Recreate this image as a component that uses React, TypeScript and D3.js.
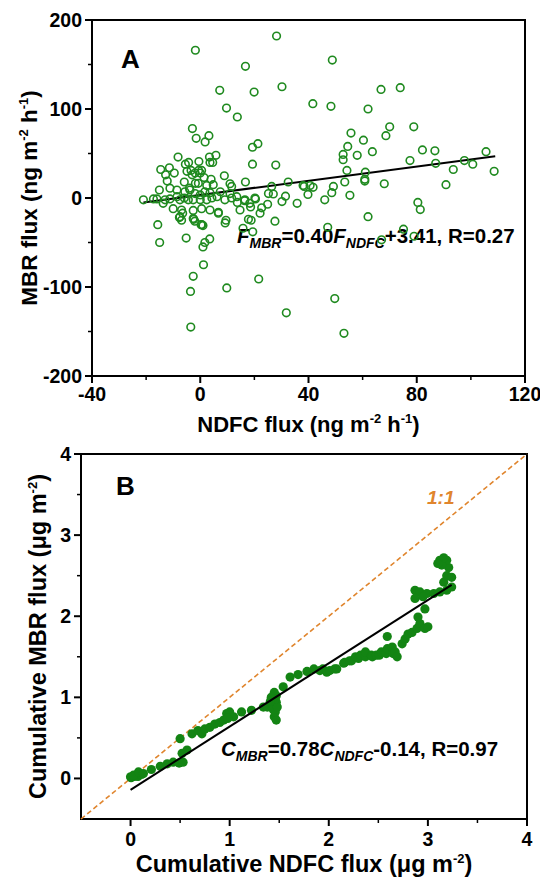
import React from "react";
import * as d3 from "d3";

// ---------- Panel A data: NDFC flux (x) vs MBR flux (y), ng m-2 h-1 ----------
const fluxPointsA: [number, number][] = [
  [-1.8, 166], [28.2, 182], [16.7, 148], [48.8, 155], [7.2, 121], [19.9, 119], [30.2, 125],
  [9.7, 101], [13.7, 91], [41.6, 106], [48.3, 103], [66.8, 122], [73.9, 124], [62, 100],
  [-2.9, 78], [-1.5, 67], [3.2, 70], [1.8, 63], [19.3, 57], [21.3, 61], [55.7, 73], [70, 80],
  [78.9, 80], [68.6, 70], [60.3, 65], [54.5, 58], [52.8, 49], [58, 48], [63.6, 52], [52.8, 43],
  [82.1, 54], [86.7, 53], [77.5, 42], [87, 39], [93.5, 32], [97.6, 42], [100.7, 38], [105.6, 52],
  [108.6, 30], [90.8, 15], [68, 16], [54.2, 31], [61, 29], [60.8, 21], [60.8, 19], [53.4, 18],
  [49.2, 13], [48.6, 6], [55.3, 3], [46, -2], [41.7, 12], [38.4, 13], [38, 14], [40.6, 14],
  [39.8, 4], [35.8, -6], [32.5, 18], [27.9, 37], [19.3, 38], [16.7, 18], [25.2, 5], [27, 4.5],
  [26.4, 13], [31.5, 2], [30.2, -4], [80.4, -5], [81.3, -13], [62, -21], [20.4, -1], [18.6, -10],
  [16.4, -3], [13.7, -5], [24.9, -7], [22.7, -11], [22.1, -17],
  [-15.7, -30], [-15, -50], [-5.2, -45], [-2.6, -88], [-3.6, -105], [-3.5, -145], [1.2, -75],
  [1, -55], [1.7, -50], [3.5, -46], [9.8, -101], [21.6, -91], [31.8, -129], [49.7, -113],
  [53.1, -152], [0.6, -30], [-2.4, -24], [-7.7, -22], [-6.5, -17], [6.7, -16], [9.5, -25],
  [18.8, -25], [27.6, -26], [15.8, -34], [19.4, -38], [47.1, -33], [67, -47], [75.1, -35],
  [79, -43], [9.2, -28],
  [-8.2, 46], [-14.6, 32], [-11.4, 34], [-12.8, 26], [-12.2, 19], [-15.1, 9], [-9.6, 28],
  [-5.5, 38], [-4.3, 40], [-4.9, 30], [-3.4, 31], [-0.5, 41], [-0.6, 31], [3.4, 46], [5.8, 48],
  [3.6, 40], [4.6, 40], [-3, 26], [-1.9, 28], [0, 28], [0.5, 31], [-5.9, 18], [-1.8, 16.5],
  [-0.7, 16.5], [1.4, 23], [4, 21], [2.4, 14], [4.8, 15], [8.9, 25], [11, 16], [11.6, 13],
  [-11.2, 11], [-8.6, 9], [-4, 11], [-5.7, 7], [-21, -2], [-17.3, -1], [-16, -1], [-13, -2],
  [-11.2, -1], [-8.6, 1.5], [-7.5, -2], [-5.9, 0], [-3.8, 9], [-1.9, 5], [0, 3.5], [1.7, 7],
  [3.6, 6], [-4.4, -2], [-2.6, -2], [0, -2], [2.4, -2], [4.3, 0], [6.2, 1.5], [7.4, 7],
  [9.1, -2], [11, 5], [11.6, 0], [13.5, 1.5], [16.5, -2], [18.3, -6], [20.2, 0], [-13.7, -6],
  [-10, -12], [-6.9, -13.5], [-2.6, -14], [0.5, -12], [3.6, -13.5], [6.7, -17], [-7.5, -21],
  [-2.6, -23], [0.3, -30], [-6.9, -25], [-2, -26], [1, -31], [14.7, -13.5], [17.8, -24],
];

// ---------- Panel B data: cumulative NDFC (x) vs cumulative MBR (y), ug m-2 ----------
const cumPointsB: [number, number][] = [
  [0, 0.02], [0.005, 0.01], [0.04, 0.025], [0.075, 0.025], [0.11, 0.05], [0.03, 0.04],
  [0.08, 0.08], [0.13, 0.06], [0.21, 0.11], [0.3, 0.15], [0.37, 0.18], [0.43, 0.2], [0.49, 0.19],
  [0.53, 0.2], [0.52, 0.31], [0.5, 0.49], [0.57, 0.35], [0.62, 0.55], [0.68, 0.59], [0.72, 0.55],
  [0.75, 0.61], [0.8, 0.63], [0.85, 0.67], [0.9, 0.69], [0.94, 0.72], [0.97, 0.8], [1.0, 0.82],
  [1.04, 0.76], [0.98, 0.74], [1.12, 0.82], [1.22, 0.84], [1.34, 0.88], [1.38, 0.88],
  [1.43, 0.9], [1.47, 0.94], [1.45, 0.76], [1.47, 0.72], [1.46, 0.82], [1.44, 0.85], [1.48, 0.88],
  [1.47, 1.02], [1.45, 1.06], [1.46, 0.98], [1.42, 1.0], [1.41, 0.95], [1.54, 1.13], [1.61, 1.25],
  [1.69, 1.28], [1.78, 1.32], [1.85, 1.35], [1.91, 1.33], [1.94, 1.35], [1.98, 1.31], [2.01, 1.33],
  [2.06, 1.35], [2.08, 1.35], [2.15, 1.42], [2.16, 1.43], [2.21, 1.45], [2.23, 1.45], [2.27, 1.5],
  [2.3, 1.48], [2.32, 1.52], [2.37, 1.5], [2.37, 1.56], [2.43, 1.52], [2.44, 1.5], [2.48, 1.52],
  [2.51, 1.52], [2.53, 1.56], [2.58, 1.54], [2.59, 1.6], [2.64, 1.62], [2.65, 1.54], [2.67, 1.56],
  [2.69, 1.5], [2.59, 1.75], [2.74, 1.66], [2.77, 1.72], [2.8, 1.78], [2.84, 1.8], [2.89, 1.85],
  [2.92, 1.91], [2.9, 1.99], [2.97, 1.85], [3.0, 1.87], [2.87, 2.32], [2.92, 2.3], [2.99, 2.28],
  [3.06, 2.28], [3.12, 2.3], [3.19, 2.32], [3.24, 2.36], [2.87, 2.22], [2.95, 2.24], [2.97, 2.09],
  [3.16, 2.42], [3.19, 2.5], [3.24, 2.48], [3.21, 2.6], [3.12, 2.69], [3.19, 2.69], [3.14, 2.63],
  [3.16, 2.72], [3.1, 2.65],
];

// ---------- Ticks ----------
const aXTicks = [-40, 0, 40, 80, 120];
const aXMinor = [-20, 20, 60, 100];
const aYTicks = [-200, -100, 0, 100, 200];
const aYMinor = [-150, -50, 50, 150];
const bTicks = [0, 1, 2, 3, 4];
const bMinor = [0.5, 1.5, 2.5, 3.5];

// ---------- Fits ----------
const fitA = [0.40, 3.41]; // slope, intercept
const fitARange = [-21, 109];
const fitB = [0.78, -0.14];
const fitBRange = [0, 3.24];
const oneToOne = [-0.5, 4];

const FONT = "'Liberation Sans', Arial, Helvetica, sans-serif";
const GREEN_A = "#1f8a1f";
const GREEN_B = "#138413";
const ORANGE = "#e0852d";

type Scale = d3.ScaleLinear<number, number>;

function Frame({ x, y, xTicks, xMinor, yTicks, yMinor, labelGap }: {
  x: Scale; y: Scale; xTicks: number[]; xMinor: number[]; yTicks: number[]; yMinor: number[]; labelGap: number;
}) {
  const [l, r] = x.range();
  const [b, t] = y.range();
  return (
    <g>
      {xTicks.map((v) => (
        <g key={"xt" + v}>
          <line x1={x(v)} x2={x(v)} y1={b} y2={b + 7} stroke="#000" strokeWidth={2} />
          <text x={x(v)} y={b + labelGap} textAnchor="middle" fontSize={19.5} fontWeight="bold" fontFamily={FONT}>
            {String(v)}
          </text>
        </g>
      ))}
      {xMinor.map((v) => (
        <line key={"xm" + v} x1={x(v)} x2={x(v)} y1={b} y2={b + 4} stroke="#000" strokeWidth={1.5} />
      ))}
      {yTicks.map((v) => (
        <g key={"yt" + v}>
          <line x1={l} x2={l - 7} y1={y(v)} y2={y(v)} stroke="#000" strokeWidth={2} />
          <text x={l - 10} y={y(v)} dy="0.36em" textAnchor="end" fontSize={19.5} fontWeight="bold" fontFamily={FONT}>
            {String(v)}
          </text>
        </g>
      ))}
      {yMinor.map((v) => (
        <line key={"ym" + v} x1={l} x2={l - 4} y1={y(v)} y2={y(v)} stroke="#000" strokeWidth={1.5} />
      ))}
      <rect x={l} y={t} width={r - l} height={b - t} fill="none" stroke="#000" strokeWidth={2} />
    </g>
  );
}

export default function App() {
  const ax = d3.scaleLinear().domain([-40, 120]).range([92, 525]);
  const ay = d3.scaleLinear().domain([-200, 200]).range([376, 20]);
  const bx = d3.scaleLinear().domain([-0.5, 4]).range([81, 527]);
  const by = d3.scaleLinear().domain([-0.5, 4]).range([819, 454]);

  const lineA = d3.line<number>().x((v) => ax(v)).y((v) => ay(fitA[0] * v + fitA[1]));
  const lineB = d3.line<number>().x((v) => bx(v)).y((v) => by(fitB[0] * v + fitB[1]));
  const lineOne = d3.line<number>().x((v) => bx(v)).y((v) => by(v));

  return (
    <svg width={540} height={883} style={{ position: "absolute", left: 0, top: 0, background: "#fff" }}>
      <rect width={540} height={883} fill="#fff" />
      {/* ---------------- Panel A ---------------- */}
      <Frame x={ax} y={ay} xTicks={aXTicks} xMinor={aXMinor} yTicks={aYTicks} yMinor={aYMinor} labelGap={25} />
      <text x={121} y={68} fontSize={26} fontWeight="bold" fontFamily={FONT}>A</text>
      <path d={lineA(fitARange) || ""} stroke="#000" strokeWidth={2} fill="none" />
      <text x={237} y={243} fontSize={20.5} fontWeight="bold" fontFamily={FONT}>
        <tspan fontStyle="italic">F</tspan>
        <tspan fontStyle="italic" fontSize={14} dy={5}>MBR</tspan>
        <tspan dy={-5}>=0.40</tspan>
        <tspan fontStyle="italic">F</tspan>
        <tspan fontStyle="italic" fontSize={14} dy={5}>NDFC</tspan>
        <tspan dy={-5}>+3.41, R=0.27</tspan>
      </text>
      {fluxPointsA.map((p, i) => (
        <circle key={"a" + i} cx={ax(p[0])} cy={ay(p[1])} r={3.8} fill="none" stroke={GREEN_A} strokeWidth={1.6} />
      ))}
      <text x={308.5} y={432} textAnchor="middle" fontSize={22} fontWeight="bold" fontFamily={FONT}>
        <tspan>NDFC flux (ng m</tspan>
        <tspan fontSize={13} dy={-9}>-2</tspan>
        <tspan dy={9}> h</tspan>
        <tspan fontSize={13} dy={-9}>-1</tspan>
        <tspan dy={9}>)</tspan>
      </text>
      <text transform="translate(37,198) rotate(-90)" textAnchor="middle" fontSize={22.5} fontWeight="bold" fontFamily={FONT}>
        <tspan>MBR flux (ng m</tspan>
        <tspan fontSize={13} dy={-9}>-2</tspan>
        <tspan dy={9}> h</tspan>
        <tspan fontSize={13} dy={-9}>-1</tspan>
        <tspan dy={9}>)</tspan>
      </text>

      {/* ---------------- Panel B ---------------- */}
      <Frame x={bx} y={by} xTicks={bTicks} xMinor={bMinor} yTicks={bTicks} yMinor={bMinor} labelGap={27} />
      <text x={116} y={495} fontSize={26} fontWeight="bold" fontFamily={FONT}>B</text>
      <path d={lineOne(oneToOne) || ""} stroke={ORANGE} strokeWidth={1.6} strokeDasharray="5,3" fill="none" />
      <text x={427} y={504} fontSize={19} fontWeight="bold" fontStyle="italic" fill={ORANGE} fontFamily={FONT}>1:1</text>
      {cumPointsB.map((p, i) => (
        <circle key={"b" + i} cx={bx(p[0])} cy={by(p[1])} r={4.6} fill={GREEN_B} />
      ))}
      <path d={lineB(fitBRange) || ""} stroke="#000" strokeWidth={2} fill="none" />
      <text x={221} y={756} fontSize={20.5} fontWeight="bold" fontFamily={FONT}>
        <tspan fontStyle="italic">C</tspan>
        <tspan fontStyle="italic" fontSize={14} dy={5}>MBR</tspan>
        <tspan dy={-5}>=0.78</tspan>
        <tspan fontStyle="italic">C</tspan>
        <tspan fontStyle="italic" fontSize={14} dy={5}>NDFC</tspan>
        <tspan dy={-5}>-0.14, R=0.97</tspan>
      </text>
      <text x={304} y={872} textAnchor="middle" fontSize={23.5} fontWeight="bold" fontFamily={FONT}>
        <tspan>Cumulative NDFC flux (μg m</tspan>
        <tspan fontSize={13} dy={-9}>-2</tspan>
        <tspan dy={9}>)</tspan>
      </text>
      <text transform="translate(46,636.5) rotate(-90)" textAnchor="middle" fontSize={23.5} fontWeight="bold" fontFamily={FONT}>
        <tspan>Cumulative MBR flux (μg m</tspan>
        <tspan fontSize={13} dy={-9}>-2</tspan>
        <tspan dy={9}>)</tspan>
      </text>
    </svg>
  );
}
